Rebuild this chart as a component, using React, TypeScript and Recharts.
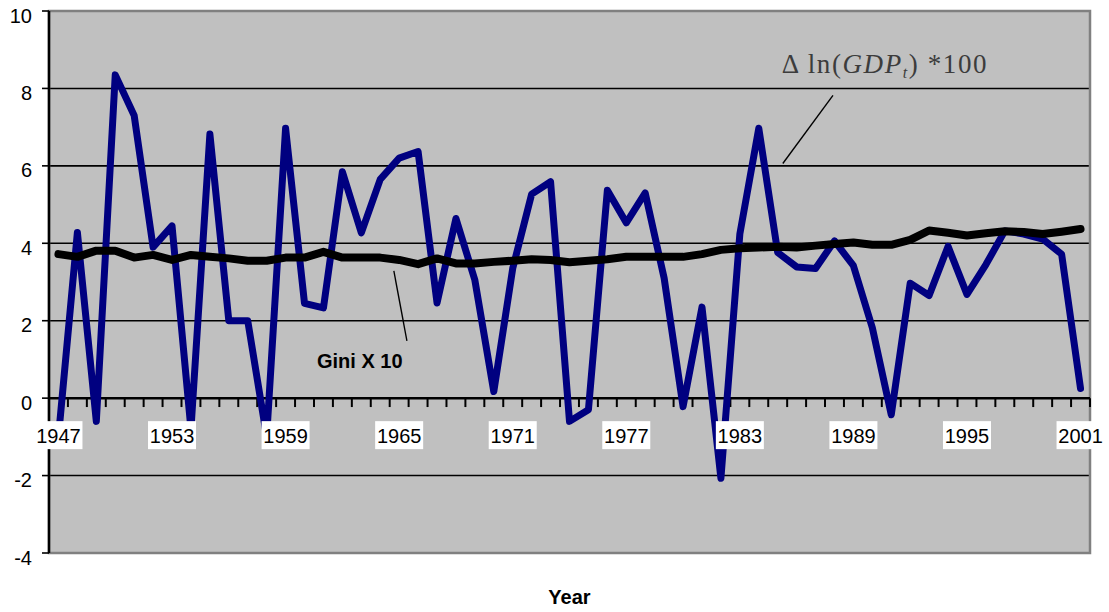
import { LineChart, Line, XAxis, YAxis, CartesianGrid, ReferenceLine, ReferenceArea, ReferenceDot } from 'recharts';

// categories
const years = [
  1947, 1948, 1949, 1950, 1951, 1952, 1953, 1954, 1955, 1956,
  1957, 1958, 1959, 1960, 1961, 1962, 1963, 1964, 1965, 1966,
  1967, 1968, 1969, 1970, 1971, 1972, 1973, 1974, 1975, 1976,
  1977, 1978, 1979, 1980, 1981, 1982, 1983, 1984, 1985, 1986,
  1987, 1988, 1989, 1990, 1991, 1992, 1993, 1994, 1995, 1996,
  1997, 1998, 1999, 2000, 2001,
];

// Δln(GDP_t)*100
const gdpGrowth = [
  -1.0, 4.28, -0.6, 8.35, 7.3, 3.9, 4.45, -0.8, 6.82, 2.0,
  2.0, -1.0, 6.97, 2.45, 2.33, 5.85, 4.27, 5.65, 6.2, 6.37,
  2.46, 4.64, 3.05, 0.17, 3.35, 5.27, 5.59, -0.6, -0.3, 5.37,
  4.53, 5.3, 3.1, -0.22, 2.35, -2.07, 4.24, 6.97, 3.76, 3.39,
  3.35, 4.06, 3.42, 1.82, -0.43, 2.97, 2.65, 3.92, 2.68, 3.45,
  4.32, 4.24, 4.11, 3.72, 0.25,
];

// Gini X 10
const giniX10 = [
  3.72, 3.65, 3.81, 3.81, 3.63, 3.7, 3.57, 3.7, 3.65, 3.61,
  3.55, 3.55, 3.63, 3.63, 3.78, 3.63, 3.63, 3.63, 3.57, 3.46,
  3.61, 3.48, 3.48, 3.52, 3.55, 3.59, 3.57, 3.51, 3.55, 3.59,
  3.65, 3.65, 3.65, 3.65, 3.72, 3.83, 3.87, 3.89, 3.91, 3.89,
  3.94, 3.98, 4.02, 3.96, 3.96, 4.09, 4.33, 4.27, 4.2, 4.26,
  4.31, 4.29, 4.24, 4.3, 4.37,
];

const yearLabels = [1947, 1953, 1959, 1965, 1971, 1977, 1983, 1989, 1995, 2001];
const yTicks = [-4, -2, 0, 2, 4, 6, 8, 10];
const gridValues = [-2, 2, 4, 6, 8];

const data = years.map((year, i) => ({ year, gdp: gdpGrowth[i], gini: giniX10[i] }));

// category boundaries for the small tick marks on the zero axis
const tickBounds = [...years.map((y) => y - 0.5), years[years.length - 1] + 0.5];
const xMin = years[0] - 0.5;
const xMax = years[years.length - 1] + 0.5;

const SANS = '"Liberation Sans", Arial, sans-serif';
const SERIF = '"Liberation Serif", "Times New Roman", serif';

const YTick = ({ x, y, payload }: any) => (
  <text x={x} y={y + 11.5} textAnchor="end" fontSize={20} fontFamily={SANS} fill="#000">
    {payload.value}
  </text>
);

const YearLabel = ({ cx, cy, year }: any) => (
  <g>
    <rect x={cx - 24} y={cy + 23} width={48} height={28} fill="#fff" />
    <text x={cx} y={cy + 45} textAnchor="middle" fontSize={20} fontFamily={SANS} fill="#000">
      {year}
    </text>
  </g>
);

export default function App() {
  return (
    <div style={{ width: 1109, height: 612, background: '#fff' }}>
      <style>{'body{margin:0}'}</style>
      <LineChart width={1109} height={612} data={data} margin={{ top: 11, right: 19, bottom: 59, left: 0 }}>
        <CartesianGrid fill="#C0C0C0" vertical={false} horizontalValues={gridValues} stroke="#000" strokeWidth={1.6} />
        <XAxis type="number" dataKey="year" domain={[xMin, xMax]} hide />
        <YAxis
          type="number"
          domain={[-4, 10]}
          ticks={yTicks}
          width={49}
          interval={0}
          axisLine={{ stroke: '#000', strokeWidth: 2.5 }}
          tickLine={{ stroke: '#000', strokeWidth: 1.6 }}
          tickSize={7}
          tickMargin={10}
          tick={<YTick />}
        />
        <ReferenceArea x1={xMin} x2={xMax} y1={-4} y2={10} fill="none" stroke="#808080" strokeWidth={2.5} />
        <ReferenceLine y={0} stroke="#000" strokeWidth={2.5} />
        {tickBounds.map((b) => (
          <ReferenceLine key={b} segment={[{ x: b, y: 0 }, { x: b, y: -0.23 }]} stroke="#000" strokeWidth={2} />
        ))}
        <Line
          type="linear"
          dataKey="gdp"
          stroke="#000080"
          strokeWidth={7}
          strokeLinejoin="round"
          strokeLinecap="round"
          dot={false}
          activeDot={false}
          isAnimationActive={false}
        />
        <Line
          type="linear"
          dataKey="gini"
          stroke="#000"
          strokeWidth={8}
          strokeLinejoin="round"
          strokeLinecap="round"
          dot={false}
          activeDot={false}
          isAnimationActive={false}
        />
        {yearLabels.map((yr) => (
          <ReferenceDot key={yr} x={yr} y={0} r={0} shape={(p: any) => <YearLabel {...p} year={yr} />} />
        ))}
        {/* leader lines */}
        <ReferenceLine segment={[{ x: 1985.27, y: 6.06 }, { x: 1987.92, y: 7.82 }]} stroke="#000" strokeWidth={1.4} />
        <ReferenceLine segment={[{ x: 1964.72, y: 3.29 }, { x: 1965.41, y: 1.48 }]} stroke="#000" strokeWidth={1.4} />
        <ReferenceDot
          x={1985.22}
          y={8.39}
          r={0}
          shape={(p: any) => (
            <text x={p.cx} y={p.cy} fontSize={27} fontFamily={SERIF} fill="#3c3c3c" letterSpacing={1.6}>
              <tspan>Δ ln(</tspan>
              <tspan fontStyle="italic">GDP</tspan>
              <tspan fontStyle="italic" fontSize={16} dy={5}>t</tspan>
              <tspan dy={-5}>) *100</tspan>
            </text>
          )}
        />
        <ReferenceDot
          x={1960.66}
          y={0.78}
          r={0}
          shape={(p: any) => (
            <text x={p.cx} y={p.cy} fontSize={20} fontWeight="bold" fontFamily={SANS} fill="#000">
              Gini X 10
            </text>
          )}
        />
        <ReferenceDot
          x={(xMin + xMax) / 2}
          y={-4}
          r={0}
          shape={(p: any) => (
            <text x={p.cx} y={p.cy + 51} textAnchor="middle" fontSize={20} fontWeight="bold" fontFamily={SANS} fill="#000">
              Year
            </text>
          )}
        />
      </LineChart>
    </div>
  );
}
